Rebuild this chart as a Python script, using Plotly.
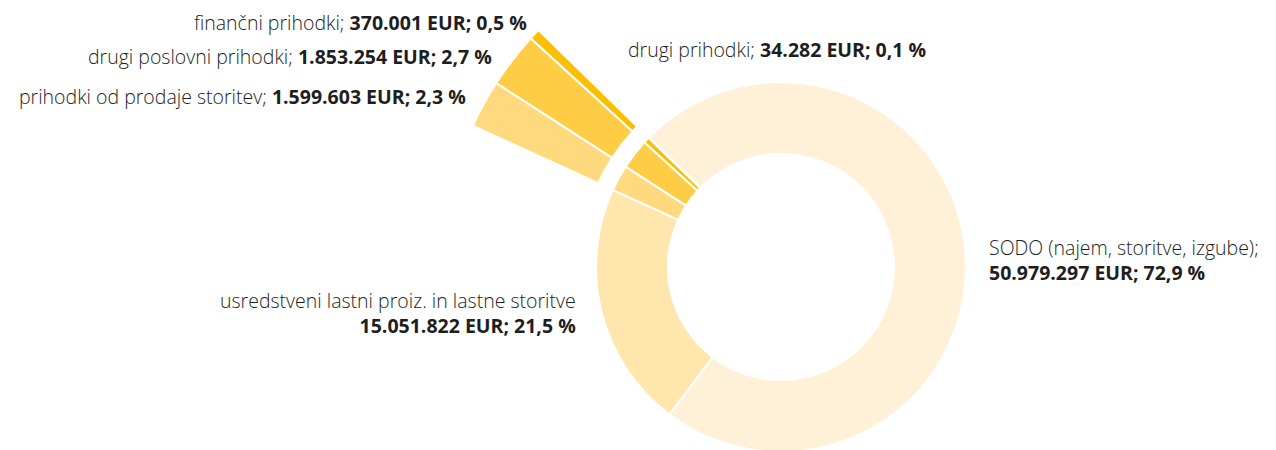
import math
import plotly.graph_objects as go

# ---------------- data ----------------
categories = [
    "SODO (najem, storitve, izgube)",
    "usredstveni lastni proiz. in lastne storitve",
    "prihodki od prodaje storitev",
    "drugi poslovni prihodki",
    "finančni prihodki",
    "drugi prihodki",
]
values_eur = [50979297, 15051822, 1599603, 1853254, 370001, 34282]
pct_labels = ["72,9", "21,5", "2,3", "2,7", "0,5", "0,1"]
zoomed = [2, 3, 4]  # slices repeated in the outer (pulled-out) ring

# ---------------- style ----------------
colors = ["#FEF1D7", "#FEE6AD", "#FFD97D", "#FFCD45", "#FBBF00", "#F2B400"]
W, H = 1276, 450
OFF = 8                    # page body margin: page px = figure px + OFF
CX, CY = 781 - OFF, 267 - OFF   # donut centre in figure pixels (from top-left)
R_IN, R_OUT = 113, 185     # donut radii
R2_IN, R2_OUT = 201, 339   # outer ring radii
START = 135.5              # math angle (deg) where the first slice starts
SEC = [132, 160]           # angular span of the outer-ring subplot
FONT = "Open Sans"
FSIZE = 19.5
TXT = "#1e1e1e"


def fmt_eur(v):
    return f"{v:,}".replace(",", ".")


total = sum(values_eur)

fig = go.Figure()

# main donut
fig.add_trace(go.Pie(
    labels=categories,
    values=values_eur,
    sort=False,
    direction="clockwise",
    rotation=90 - START,
    hole=R_IN / R_OUT,
    marker=dict(colors=colors, line=dict(color="white", width=2)),
    textinfo="none",
    hoverinfo="label+value",
    showlegend=False,
    domain=dict(x=[(CX - R_OUT) / W, (CX + R_OUT) / W],
                y=[max(0, (H - CY - R_OUT) / H), (H - CY + R_OUT) / H]),
))

# outer pulled-out ring for small slices (barpolar in a partial-sector polar)
cum = []
c = 0
for v in values_eur:
    cum.append(c)
    c += v
theta = [(cum[i] + values_eur[i] / 2) / total * 360 for i in zoomed]
widths = [values_eur[i] / total * 360 for i in zoomed]
fig.add_trace(go.Barpolar(
    theta=theta,
    width=widths,
    r=[R2_OUT - R2_IN] * len(zoomed),
    base=[R2_IN] * len(zoomed),
    marker=dict(color=[colors[i] for i in zoomed], line=dict(color="white", width=2)),
    hovertext=[categories[i] for i in zoomed],
    hoverinfo="text",
    showlegend=False,
))

xs = [math.cos(math.radians(a)) for a in SEC]
ys = [math.sin(math.radians(a)) for a in SEC]
bx0, bx1 = min(xs + [0]), max(xs + [0])
by0, by1 = min(ys + [0]), max(ys + [0])
fig.update_layout(
    polar=dict(
        sector=SEC,
        domain=dict(x=[(CX + R2_OUT * bx0) / W, (CX + R2_OUT * bx1) / W],
                    y=[(H - CY + R2_OUT * by0) / H, (H - CY + R2_OUT * by1) / H]),
        bgcolor="rgba(0,0,0,0)",
        radialaxis=dict(range=[0, R2_OUT], visible=False, showgrid=False),
        angularaxis=dict(rotation=START, direction="clockwise", visible=False,
                         showgrid=False),
        bargap=0,
    ),
)

# ---------------- labels ----------------
def lab(i):
    return f"{categories[i]}; <b>{fmt_eur(values_eur[i])} EUR; {pct_labels[i]} %</b>"


ann = [
    # (text, x px, y px on page, x anchor, y anchor)
    (lab(4), 528, OFF, "right", "top"),
    (lab(3), 493, 56, "right", "middle"),
    (lab(2), 467, 96, "right", "middle"),
    (lab(5), 627, 49, "left", "middle"),
    (f"{categories[0]};<br><b>{fmt_eur(values_eur[0])} EUR; {pct_labels[0]} %</b>",
     988, 260, "left", "middle"),
    (f"{categories[1]}<br><b>{fmt_eur(values_eur[1])} EUR; {pct_labels[1]} %</b>",
     577, 312.5, "right", "middle"),
]
for text, x, y, xa, ya in ann:
    fig.add_annotation(
        text=text, x=(x - OFF) / W, y=1 - (y - OFF) / H, xref="paper", yref="paper",
        xanchor=xa, yanchor=ya, align=xa, showarrow=False,
        font=dict(family=FONT, size=FSIZE, color=TXT, weight=300),
        borderpad=0,
    )

fig.update_layout(
    width=W, height=H,
    margin=dict(l=0, r=0, t=0, b=0),
    paper_bgcolor="white",
    plot_bgcolor="white",
)

fig.write_html("out.html")
